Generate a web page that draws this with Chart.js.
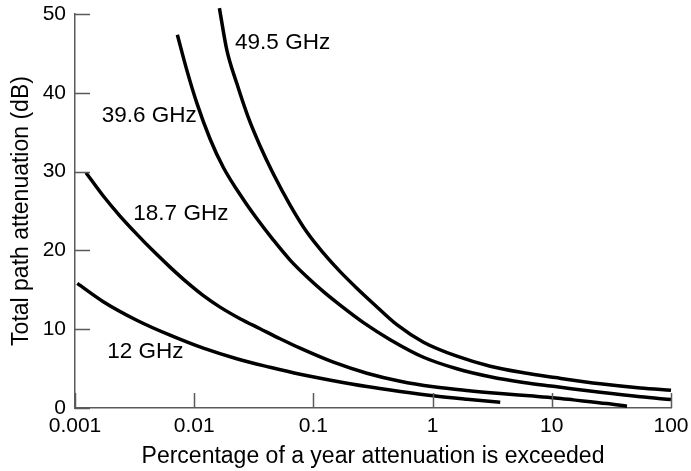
<!DOCTYPE html>
<html>
<head>
<meta charset="utf-8">
<script src="https://cdn.jsdelivr.net/npm/chart.js@4"></script>
<style>
  html, body { margin: 0; padding: 0; background: #fff; }
  #wrap { width: 691px; height: 471px; }
</style>
</head>
<body>
<div id="wrap"><canvas id="attChart"></canvas></div>
<script>
// x ticks (percentage of year, log axis) and y ticks (dB)
const xTicks = [0.001, 0.01, 0.1, 1, 10, 100];
const xTickLabels = ['0.001', '0.01', '0.1', '1', '10', '100'];
const yTicks = [0, 10, 20, 30, 40, 50];

// 12 GHz
const x12 = [0.001045, 0.001727, 0.003296, 0.006272, 0.01194, 0.02276, 0.04331, 0.07735, 0.1472, 0.2809, 0.5345, 1.017, 1.94, 3.692];
const y12 = [15.81, 13.49, 11.14, 9.24, 7.59, 6.25, 5.17, 4.28, 3.46, 2.72, 2.1, 1.55, 1.11, 0.72];

// 18.7 GHz
const x187 = [0.001237, 0.001727, 0.002387, 0.003296, 0.004542, 0.006272, 0.00866, 0.01194, 0.01648, 0.02426, 0.03571, 0.05256, 0.07735, 0.1472, 0.2809, 0.5345, 1.017, 1.94, 3.692, 7.027, 10.69, 15.22, 29.03, 42.73];
const y187 = [29.86, 26.9, 24.36, 22.07, 19.91, 17.88, 15.97, 14.26, 12.8, 11.33, 10.06, 8.79, 7.59, 5.81, 4.41, 3.39, 2.69, 2.21, 1.83, 1.51, 1.28, 1.03, 0.56, 0.22];

// 39.6 GHz
const x396 = [0.007222, 0.00866, 0.01051, 0.01359, 0.01757, 0.02586, 0.03351, 0.04617, 0.06376, 0.0881, 0.1214, 0.1676, 0.263, 0.4405, 0.8384, 1.599, 3.043, 5.79, 10.69, 25.5, 55.3, 100];
const y396 = [47.36, 42.91, 38.72, 34.14, 30.52, 26.45, 24.04, 21.31, 18.77, 16.65, 14.76, 13.05, 10.83, 8.67, 6.44, 4.98, 3.96, 3.23, 2.72, 1.99, 1.42, 1.07];

// 49.5 GHz
const x495 = [0.01627, 0.01877, 0.02276, 0.02832, 0.03571, 0.04617, 0.06376, 0.0881, 0.1214, 0.1676, 0.2313, 0.319, 0.5013, 0.8384, 1.599, 3.043, 5.79, 10.69, 25.5, 55.3, 100];
const y495 = [50.75, 45.45, 41.2, 36.94, 33.25, 29.7, 25.76, 22.33, 19.66, 17.31, 15.21, 13.24, 10.57, 8.35, 6.57, 5.3, 4.47, 3.86, 3.07, 2.54, 2.25];

const seriesNames = ['12 GHz', '18.7 GHz', '39.6 GHz', '49.5 GHz'];

// where each curve name sits, in data units (left edge, vertical middle)
const curveLabels = [
    { text: '12 GHz', x: 0.001866, y: 7.1 },
    { text: '18.7 GHz', x: 0.003086, y: 24.7 },
    { text: '39.6 GHz', x: 0.001675, y: 37.1 },
    { text: '49.5 GHz', x: 0.02203, y: 46.4 }
];

const FONT = '"Liberation Sans", Arial, Helvetica, sans-serif';
const axisColor = '#5a5a5a';

function pts(xs, ys) {
    return xs.map((v, i) => ({ x: v, y: ys[i] }));
}

function curve(label, xs, ys) {
    return {
        label: label,
        data: pts(xs, ys),
        borderColor: '#000',
        borderWidth: 3.5,
        pointRadius: 0,
        fill: false,
        cubicInterpolationMode: 'monotone',
        clip: false
    };
}

// ticks are drawn inward, and the curve names go on top
const extras = {
    id: 'extras',
    afterDatasetsDraw(chart) {
        const { ctx, chartArea, scales: { x, y } } = chart;
        ctx.save();
        ctx.strokeStyle = axisColor;
        ctx.lineWidth = 1.5;
        ctx.beginPath();
        xTicks.forEach(v => {
            const px = Math.round(x.getPixelForValue(v)) + 0.5;
            ctx.moveTo(px, chartArea.bottom);
            ctx.lineTo(px, chartArea.bottom - 15);
        });
        yTicks.forEach(v => {
            const py = Math.round(y.getPixelForValue(v)) + 0.5;
            ctx.moveTo(chartArea.left, py);
            ctx.lineTo(chartArea.left + 15, py);
        });
        ctx.stroke();

        ctx.fillStyle = '#000';
        ctx.font = '22.5px ' + FONT;
        ctx.textAlign = 'left';
        ctx.textBaseline = 'middle';
        curveLabels.forEach(l => {
            ctx.fillText(l.text, x.getPixelForValue(l.x), y.getPixelForValue(l.y));
        });
        ctx.restore();
    }
};

const ctx = document.getElementById('attChart').getContext('2d');

const attChart = new Chart(ctx, {
    type: 'line',
    data: {
        datasets: [
            curve(seriesNames[0], x12, y12),
            curve(seriesNames[1], x187, y187),
            curve(seriesNames[2], x396, y396),
            curve(seriesNames[3], x495, y495)
        ]
    },
    options: {
        responsive: true,
        maintainAspectRatio: false,
        animation: false,
        layout: {
            padding: { top: 14, right: 20, left: 0, bottom: 0 }
        },
        plugins: {
            legend: { display: false },
            tooltip: { enabled: false }
        },
        scales: {
            x: {
                type: 'logarithmic',
                min: 0.001,
                max: 100,
                afterBuildTicks: scale => {
                    scale.ticks = xTicks.map(v => ({ value: v }));
                },
                afterFit: scale => {
                    scale.height = 63;
                    scale.paddingLeft = 0;
                    scale.paddingRight = 0;
                },
                ticks: {
                    color: '#000',
                    font: { family: FONT, size: 21 },
                    padding: 6,
                    maxRotation: 0,
                    autoSkip: false,
                    callback: (value, index) => xTickLabels[index]
                },
                grid: { display: false, drawTicks: false },
                border: { display: true, color: axisColor, width: 1.5 },
                title: {
                    display: true,
                    text: 'Percentage of a year attenuation is exceeded',
                    color: '#000',
                    font: { family: FONT, size: 23 },
                    padding: { top: 0, bottom: 1 }
                }
            },
            y: {
                min: 0,
                max: 50,
                afterBuildTicks: scale => {
                    scale.ticks = yTicks.map(v => ({ value: v }));
                },
                afterFit: scale => {
                    scale.width = 75;
                    scale.paddingTop = 0;
                    scale.paddingBottom = 0;
                },
                ticks: {
                    color: '#000',
                    font: { family: FONT, size: 21 },
                    padding: 9
                },
                grid: { display: false, drawTicks: false },
                border: { display: true, color: axisColor, width: 1.5 },
                title: {
                    display: true,
                    text: 'Total path attenuation (dB)',
                    color: '#000',
                    font: { family: FONT, size: 23 },
                    padding: { top: 8, bottom: 0 }
                }
            }
        }
    },
    plugins: [extras]
});
</script>
</body>
</html>
